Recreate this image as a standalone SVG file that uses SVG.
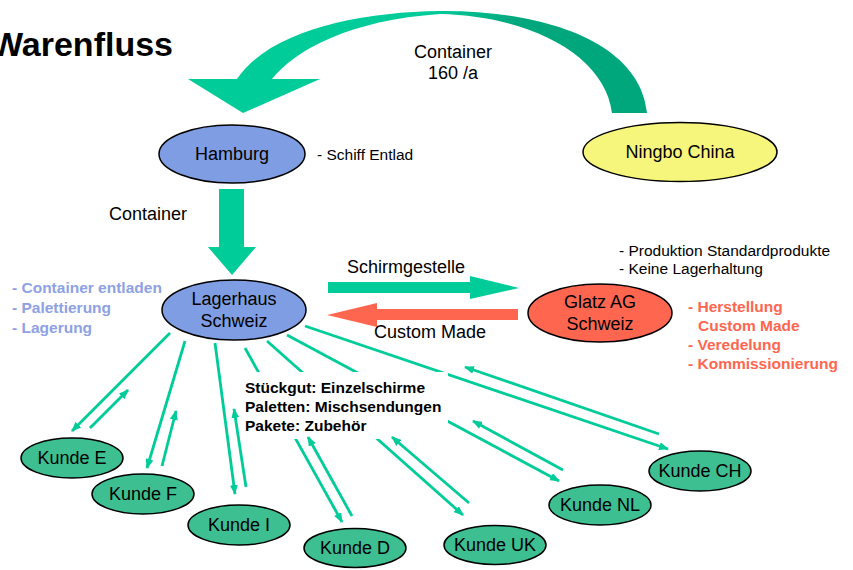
<svg xmlns="http://www.w3.org/2000/svg" width="853" height="570" viewBox="0 0 853 570">
<defs>
<style>
text{font-family:"Liberation Sans",Arial,sans-serif;fill:#000}
.lbl{font-size:18px}
.mid{text-anchor:middle}
.sm{font-size:15.5px}
.b{font-weight:bold}
.node{stroke:#000;stroke-width:1.5}
.blue{fill:#7F9DE3}
.kunde{fill:#3DBF91}
.conn line{stroke:#00CC99;stroke-width:2.8;fill:none;marker-end:url(#ah)}
</style>
<marker id="ah" viewBox="0 0 10 8" markerWidth="10" markerHeight="8" refX="9" refY="4" orient="auto" markerUnits="userSpaceOnUse">
<path d="M0,0 L10,4 L0,8 Z" fill="#00CC99"/>
</marker>
<linearGradient id="cg" gradientUnits="userSpaceOnUse" x1="430" y1="0" x2="520" y2="0">
<stop offset="0" stop-color="#00CC99"/>
<stop offset="1" stop-color="#00A67C"/>
</linearGradient>
</defs>
<rect width="853" height="570" fill="#fff"/>

<text x="173" y="56" font-size="34" font-weight="bold" text-anchor="end">Warenfluss</text>

<g id="flows">
<path id="curved-arrow" d="M237,79 C270,30 360,12 440,11 C540,10 640,40 647,113 L612,113 C605,55 530,16 440,14 C350,20 295,50 272,79 L320,79 L243,113 L188,79 Z" fill="url(#cg)"/>
<text class="lbl mid" x="453" y="58">Container</text>
<text class="lbl mid" x="453" y="79">160 /a</text>
<polygon id="down-arrow" points="219,189 244,189 244,247 256,247 232,275 208,247 219,247" fill="#00CC99"/>
<text class="lbl" x="187" y="220" text-anchor="end">Container</text>
<polygon id="schirm-arrow" points="328,282 470,282 470,276 519,288 470,299 470,293 328,293" fill="#00CC99"/>
<text class="lbl" x="347" y="273">Schirmgestelle</text>
<polygon id="custom-arrow" points="518,309 377,309 377,303 327,315 377,327 377,320 518,320" fill="#FF6650"/>
<text class="lbl" x="374" y="338">Custom Made</text>
</g>

<g id="connectors" class="conn">
<line x1="170" y1="333" x2="72" y2="431"/>
<line x1="185" y1="341" x2="147" y2="468"/>
<line x1="215" y1="343" x2="235" y2="494"/>
<line x1="245" y1="348" x2="342" y2="522"/>
<line x1="267" y1="341" x2="463" y2="515"/>
<line x1="287" y1="335" x2="559" y2="481"/>
<line x1="305" y1="326" x2="668" y2="449"/>
</g>
<rect x="240" y="372" width="208" height="67" fill="#fff"/>
<g id="connectors-back" class="conn">
<line x1="90" y1="428" x2="128" y2="390"/>
<line x1="162" y1="466" x2="176" y2="411"/>
<line x1="246" y1="487" x2="234" y2="409"/>
<line x1="352" y1="516" x2="308" y2="437"/>
<line x1="469" y1="503" x2="392" y2="437"/>
<line x1="563" y1="470" x2="473" y2="421"/>
<line x1="659" y1="434" x2="465" y2="367"/>
</g>

<g id="goods-text">
<text class="sm b" x="245" y="393">Stückgut: Einzelschirme</text>
<text class="sm b" x="245" y="412">Paletten: Mischsendungen</text>
<text class="sm b" x="245" y="431">Pakete: Zubehör</text>
</g>

<g id="hamburg">
<ellipse class="node blue" cx="232" cy="154" rx="73" ry="29"/>
<text class="lbl mid" x="232" y="160">Hamburg</text>
<text class="sm" x="317" y="160">- Schiff Entlad</text>
</g>

<g id="ningbo">
<ellipse class="node" cx="680" cy="152" rx="97" ry="29.5" fill="#F6F67C"/>
<text class="lbl mid" x="680" y="158">Ningbo China</text>
</g>

<g id="lagerhaus">
<ellipse class="node blue" cx="234" cy="310" rx="72" ry="30"/>
<text class="lbl mid" x="234" y="305">Lagerhaus</text>
<text class="lbl mid" x="234" y="327">Schweiz</text>
<g style="fill:#8DA1E4" class="sm b">
<text x="12" y="293" style="fill:#8DA1E4">- Container entladen</text>
<text x="12" y="313" style="fill:#8DA1E4">- Palettierung</text>
<text x="12" y="333" style="fill:#8DA1E4">- Lagerung</text>
</g>
</g>

<g id="glatz">
<ellipse class="node" cx="600" cy="313" rx="72" ry="29" fill="#FF6650"/>
<text class="lbl mid" x="600" y="308">Glatz AG</text>
<text class="lbl mid" x="600" y="330">Schweiz</text>
<text class="sm" x="619" y="256">- Produktion Standardprodukte</text>
<text class="sm" x="619" y="274">- Keine Lagerhaltung</text>
<text class="sm b" x="688" y="312" style="fill:#FF6650">- Herstellung</text>
<text class="sm b" x="698" y="331" style="fill:#FF6650">Custom Made</text>
<text class="sm b" x="688" y="350" style="fill:#FF6650">- Veredelung</text>
<text class="sm b" x="688" y="369" style="fill:#FF6650">- Kommissionierung</text>
</g>

<g id="kunde-e"><ellipse class="node kunde" cx="72" cy="458" rx="51" ry="20"/><text class="lbl mid" x="72" y="464">Kunde E</text></g>
<g id="kunde-f"><ellipse class="node kunde" cx="143" cy="494" rx="51" ry="20"/><text class="lbl mid" x="143" y="500">Kunde F</text></g>
<g id="kunde-i"><ellipse class="node kunde" cx="239" cy="525" rx="51" ry="20"/><text class="lbl mid" x="239" y="531">Kunde I</text></g>
<g id="kunde-d"><ellipse class="node kunde" cx="355" cy="548" rx="51" ry="19.5"/><text class="lbl mid" x="355" y="554">Kunde D</text></g>
<g id="kunde-uk"><ellipse class="node kunde" cx="495" cy="545" rx="51" ry="19.5"/><text class="lbl mid" x="495" y="551">Kunde UK</text></g>
<g id="kunde-nl"><ellipse class="node kunde" cx="600" cy="505" rx="51" ry="20"/><text class="lbl mid" x="600" y="511">Kunde NL</text></g>
<g id="kunde-ch"><ellipse class="node kunde" cx="700" cy="471" rx="51" ry="20"/><text class="lbl mid" x="700" y="477">Kunde CH</text></g>
</svg>
